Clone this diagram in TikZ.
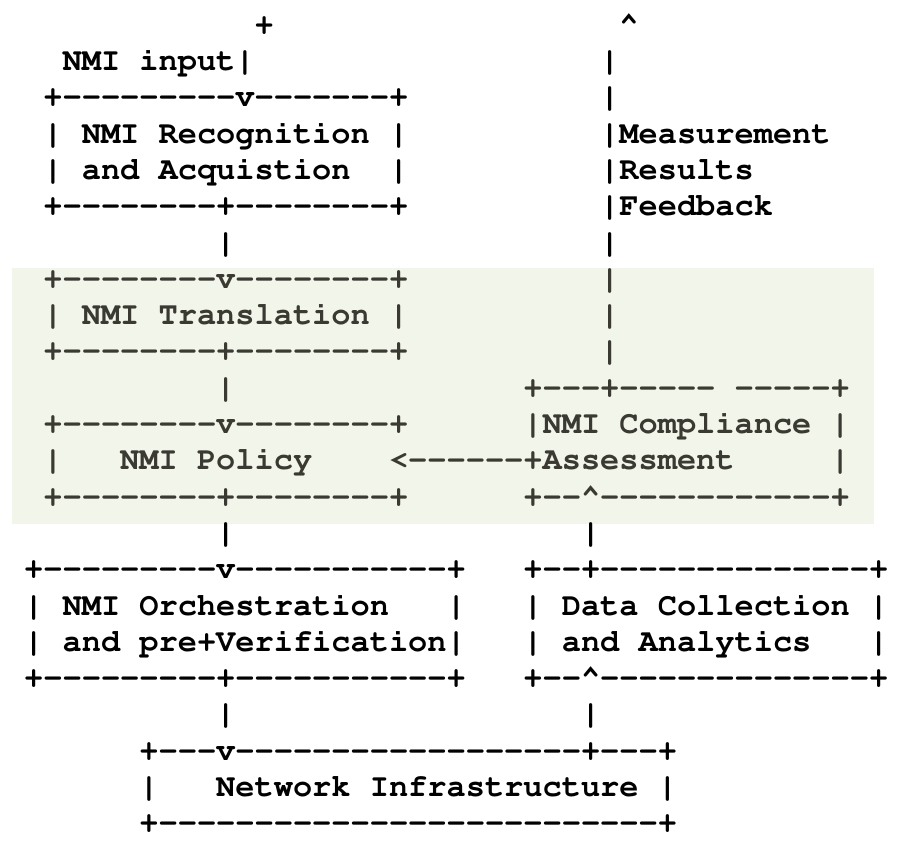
\documentclass[tikz,border=0pt]{standalone}
\usepackage[T1]{fontenc}
\usepackage{courier}
\definecolor{shadebg}{HTML}{F2F5EA}
\definecolor{dimtext}{HTML}{3A3A32}
\tikzset{
  asc/.style={anchor=base west, inner sep=0pt, outer sep=0pt,
    font=\fontsize{32}{36}\selectfont\ttfamily\bfseries, text=black},
  ascg/.style={asc, text=dimtext}
}
\newcommand\AR[5]{\node[#4] (#1) at ({43.4+19.2*(#3)},{34.2+36.3*(#2-1)}) {#5};}
\newcommand\Hat{\textasciicircum}
\newcommand\dd[1]{\foreach\dashidx in {1,...,#1}{-\kern0pt}}
\begin{document}
\begin{tikzpicture}[x=1pt,y=-1pt]
\useasboundingbox (0,0) rectangle (904,844);
\fill[shadebg] (12,268) rectangle (874,524);
% row 1
\AR{r1a}{1}{11}{asc}{+}
\AR{r1b}{1}{30}{asc}{\Hat}
% row 2
\AR{r2a}{2}{1}{asc}{NMI~input|}
\AR{r2b}{2}{29}{asc}{|}
% row 3
\AR{r3a}{3}{0}{asc}{+\dd{9}v\dd{7}+}
\AR{r3b}{3}{29}{asc}{|}
% row 4
\AR{r4a}{4}{0}{asc}{|~NMI~Recognition~|}
\AR{r4b}{4}{29}{asc}{|Measurement}
% row 5
\AR{r5a}{5}{0}{asc}{|~and~Acquistion~~|}
\AR{r5b}{5}{29}{asc}{|Results}
% row 6
\AR{r6a}{6}{0}{asc}{+\dd{8}+\dd{8}+}
\AR{r6b}{6}{29}{asc}{|Feedback}
% row 7
\AR{r7a}{7}{9}{asc}{|}
\AR{r7b}{7}{29}{asc}{|}
% row 8
\AR{r8a}{8}{0}{ascg}{+\dd{8}v\dd{8}+}
\AR{r8b}{8}{29}{ascg}{|}
% row 9
\AR{r9a}{9}{0}{ascg}{|~NMI~Translation~|}
\AR{r9b}{9}{29}{ascg}{|}
% row 10
\AR{r10a}{10}{0}{ascg}{+\dd{8}+\dd{8}+}
\AR{r10b}{10}{29}{ascg}{|}
% row 11
\AR{r11a}{11}{9}{ascg}{|}
\AR{r11b}{11}{25}{ascg}{+\dd{3}+\dd{5}~\dd{5}+}
% row 12
\AR{r12a}{12}{0}{ascg}{+\dd{8}v\dd{8}+}
\AR{r12b}{12}{25}{ascg}{|NMI~Compliance~|}
% row 13
\AR{r13a}{13}{0}{ascg}{|~~~NMI~Policy~~~~<\dd{6}+Assessment~~~~~|}
% row 14
\AR{r14a}{14}{0}{ascg}{+\dd{8}+\dd{8}+}
\AR{r14b}{14}{25}{ascg}{+\dd{2}\Hat\dd{12}+}
% row 15
\AR{r15a}{15}{9}{asc}{|}
\AR{r15b}{15}{28}{asc}{|}
% row 16
\AR{r16a}{16}{-1}{asc}{+\dd{9}v\dd{11}+}
\AR{r16b}{16}{25}{asc}{+\dd{2}+\dd{14}+}
% row 17
\AR{r17a}{17}{-1}{asc}{|~NMI~Orchestration~~~|}
\AR{r17b}{17}{25}{asc}{|~Data~Collection~|}
% row 18
\AR{r18a}{18}{-1}{asc}{|~and~pre+Verification|}
\AR{r18b}{18}{25}{asc}{|~and~Analytics~~~|}
% row 19
\AR{r19a}{19}{-1}{asc}{+\dd{9}+\dd{11}+}
\AR{r19b}{19}{25}{asc}{+\dd{2}\Hat\dd{14}+}
% row 20
\AR{r20a}{20}{9}{asc}{|}
\AR{r20b}{20}{28}{asc}{|}
% row 21
\AR{r21a}{21}{5}{asc}{+\dd{3}v\dd{18}+\dd{3}+}
% row 22
\AR{r22a}{22}{5}{asc}{|~~~Network~Infrastructure~|}
% row 23
\AR{r23a}{23}{5}{asc}{+\dd{26}+}
\end{tikzpicture}
\end{document}
